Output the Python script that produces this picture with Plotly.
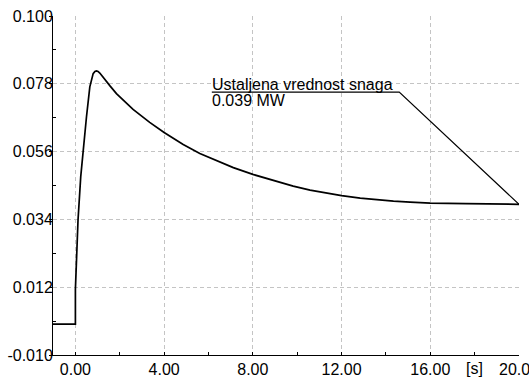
import plotly.graph_objects as go

# time [s] and power [MW]
t = [-1.01, 0.0, 0.0, 0.045, 0.118, 0.24, 0.344, 0.50, 0.65, 0.80, 0.88, 0.95, 1.02, 1.10,
     1.55, 1.85, 2.60, 3.35, 4.0, 4.86, 5.61, 6.37, 7.12, 8.0, 8.77, 9.07, 9.82, 10.58,
     11.33, 12.0, 12.84, 13.59, 14.34, 15.09, 16.0, 17.6, 20.0]
p = [0.0, 0.0, 0.0113, 0.0208, 0.0338, 0.0478, 0.0559, 0.0673, 0.0770, 0.0813, 0.0820, 0.0822, 0.0820, 0.0815,
     0.0774, 0.0748, 0.0697, 0.0655, 0.0622, 0.0583, 0.0554, 0.0530, 0.0508, 0.0486, 0.0469, 0.0463, 0.0448, 0.0435,
     0.0425, 0.0417, 0.0409, 0.0403, 0.0399, 0.0396, 0.0393, 0.0391, 0.0389]

# annotation leader (underline + pointer to final value)
lead_x = [6.15, 14.6, 20.0]
lead_y = [0.0753, 0.0753, 0.0389]
ann_title = "Ustaljena vrednost snaga"
ann_value = "0.039 MW"

x_ticks = [0, 4, 8, 12, 16, 20]
x_labels = ["0.00", "4.00", "8.00", "12.00", "16.00", "20.00"]
x_minor = [2, 6, 10, 14, 18]
y_ticks = [-0.010, 0.012, 0.034, 0.056, 0.078, 0.100]
y_labels = ["-0.010", "0.012", "0.034", "0.056", "0.078", "0.100"]
y_minor = [0.001, 0.023, 0.045, 0.067, 0.089]
x_unit = "[s]"

FONT = "Arial, Liberation Sans, sans-serif"
GRID = "#c4c4c4"

fig = go.Figure()
fig.add_trace(go.Scatter(x=t, y=p, mode="lines", line=dict(color="black", width=1.7),
                         showlegend=False, hoverinfo="skip", cliponaxis=False))
fig.add_trace(go.Scatter(x=lead_x, y=lead_y, mode="lines", line=dict(color="black", width=1.2),
                         showlegend=False, hoverinfo="skip", cliponaxis=False))

fig.add_annotation(x=lead_x[0], y=0.0778, xref="x", yref="y", text=ann_title, showarrow=False,
                   xanchor="left", yanchor="middle", xshift=-2,
                   font=dict(family=FONT, size=16, color="black"))
fig.add_annotation(x=lead_x[0], y=0.0727, xref="x", yref="y", text=ann_value, showarrow=False,
                   xanchor="left", yanchor="middle", xshift=-2,
                   font=dict(family=FONT, size=16, color="black"))
fig.add_annotation(x=18, y=0, xref="x", yref="paper", text=x_unit, showarrow=False,
                   xanchor="center", yanchor="top", yshift=-3,
                   font=dict(family=FONT, size=16, color="black"))

fig.update_layout(
    width=529, height=378,
    margin=dict(l=53, r=10, t=16, b=23),
    paper_bgcolor="white", plot_bgcolor="white",
    font=dict(family=FONT, size=16, color="black"),
    showlegend=False,
)
fig.update_xaxes(
    range=[-1.01, 20], tickmode="array", tickvals=x_ticks, ticktext=x_labels,
    ticks="inside", ticklen=3, tickcolor="black", tickwidth=1, automargin=False,
    ticklabeloverflow="allow",
    showline=True, linecolor="black", linewidth=1, zeroline=False,
    showgrid=True, gridcolor=GRID, griddash="4px,3px", gridwidth=1,
    minor=dict(tickmode="array", tickvals=x_minor, ticks="inside", ticklen=3,
               tickcolor="black", showgrid=False),
    tickfont=dict(family=FONT, size=16), fixedrange=True,
)
fig.update_yaxes(
    range=[-0.010, 0.100], tickmode="array", tickvals=y_ticks, ticktext=y_labels,
    ticks="outside", ticklen=3, tickcolor="black", tickwidth=1, automargin=False,
    ticklabeloverflow="allow", ticklabelstandoff=-7,
    showline=True, linecolor="black", linewidth=1, zeroline=False,
    showgrid=True, gridcolor=GRID, griddash="4px,3px", gridwidth=1,
    minor=dict(tickmode="array", tickvals=y_minor, ticks="inside", ticklen=3,
               tickcolor="black", showgrid=False),
    tickfont=dict(family=FONT, size=16), fixedrange=True,
)

fig.write_html("out.html", config={"displayModeBar": False},
               post_script="document.body.style.margin='0';document.body.style.overflow='hidden';")
